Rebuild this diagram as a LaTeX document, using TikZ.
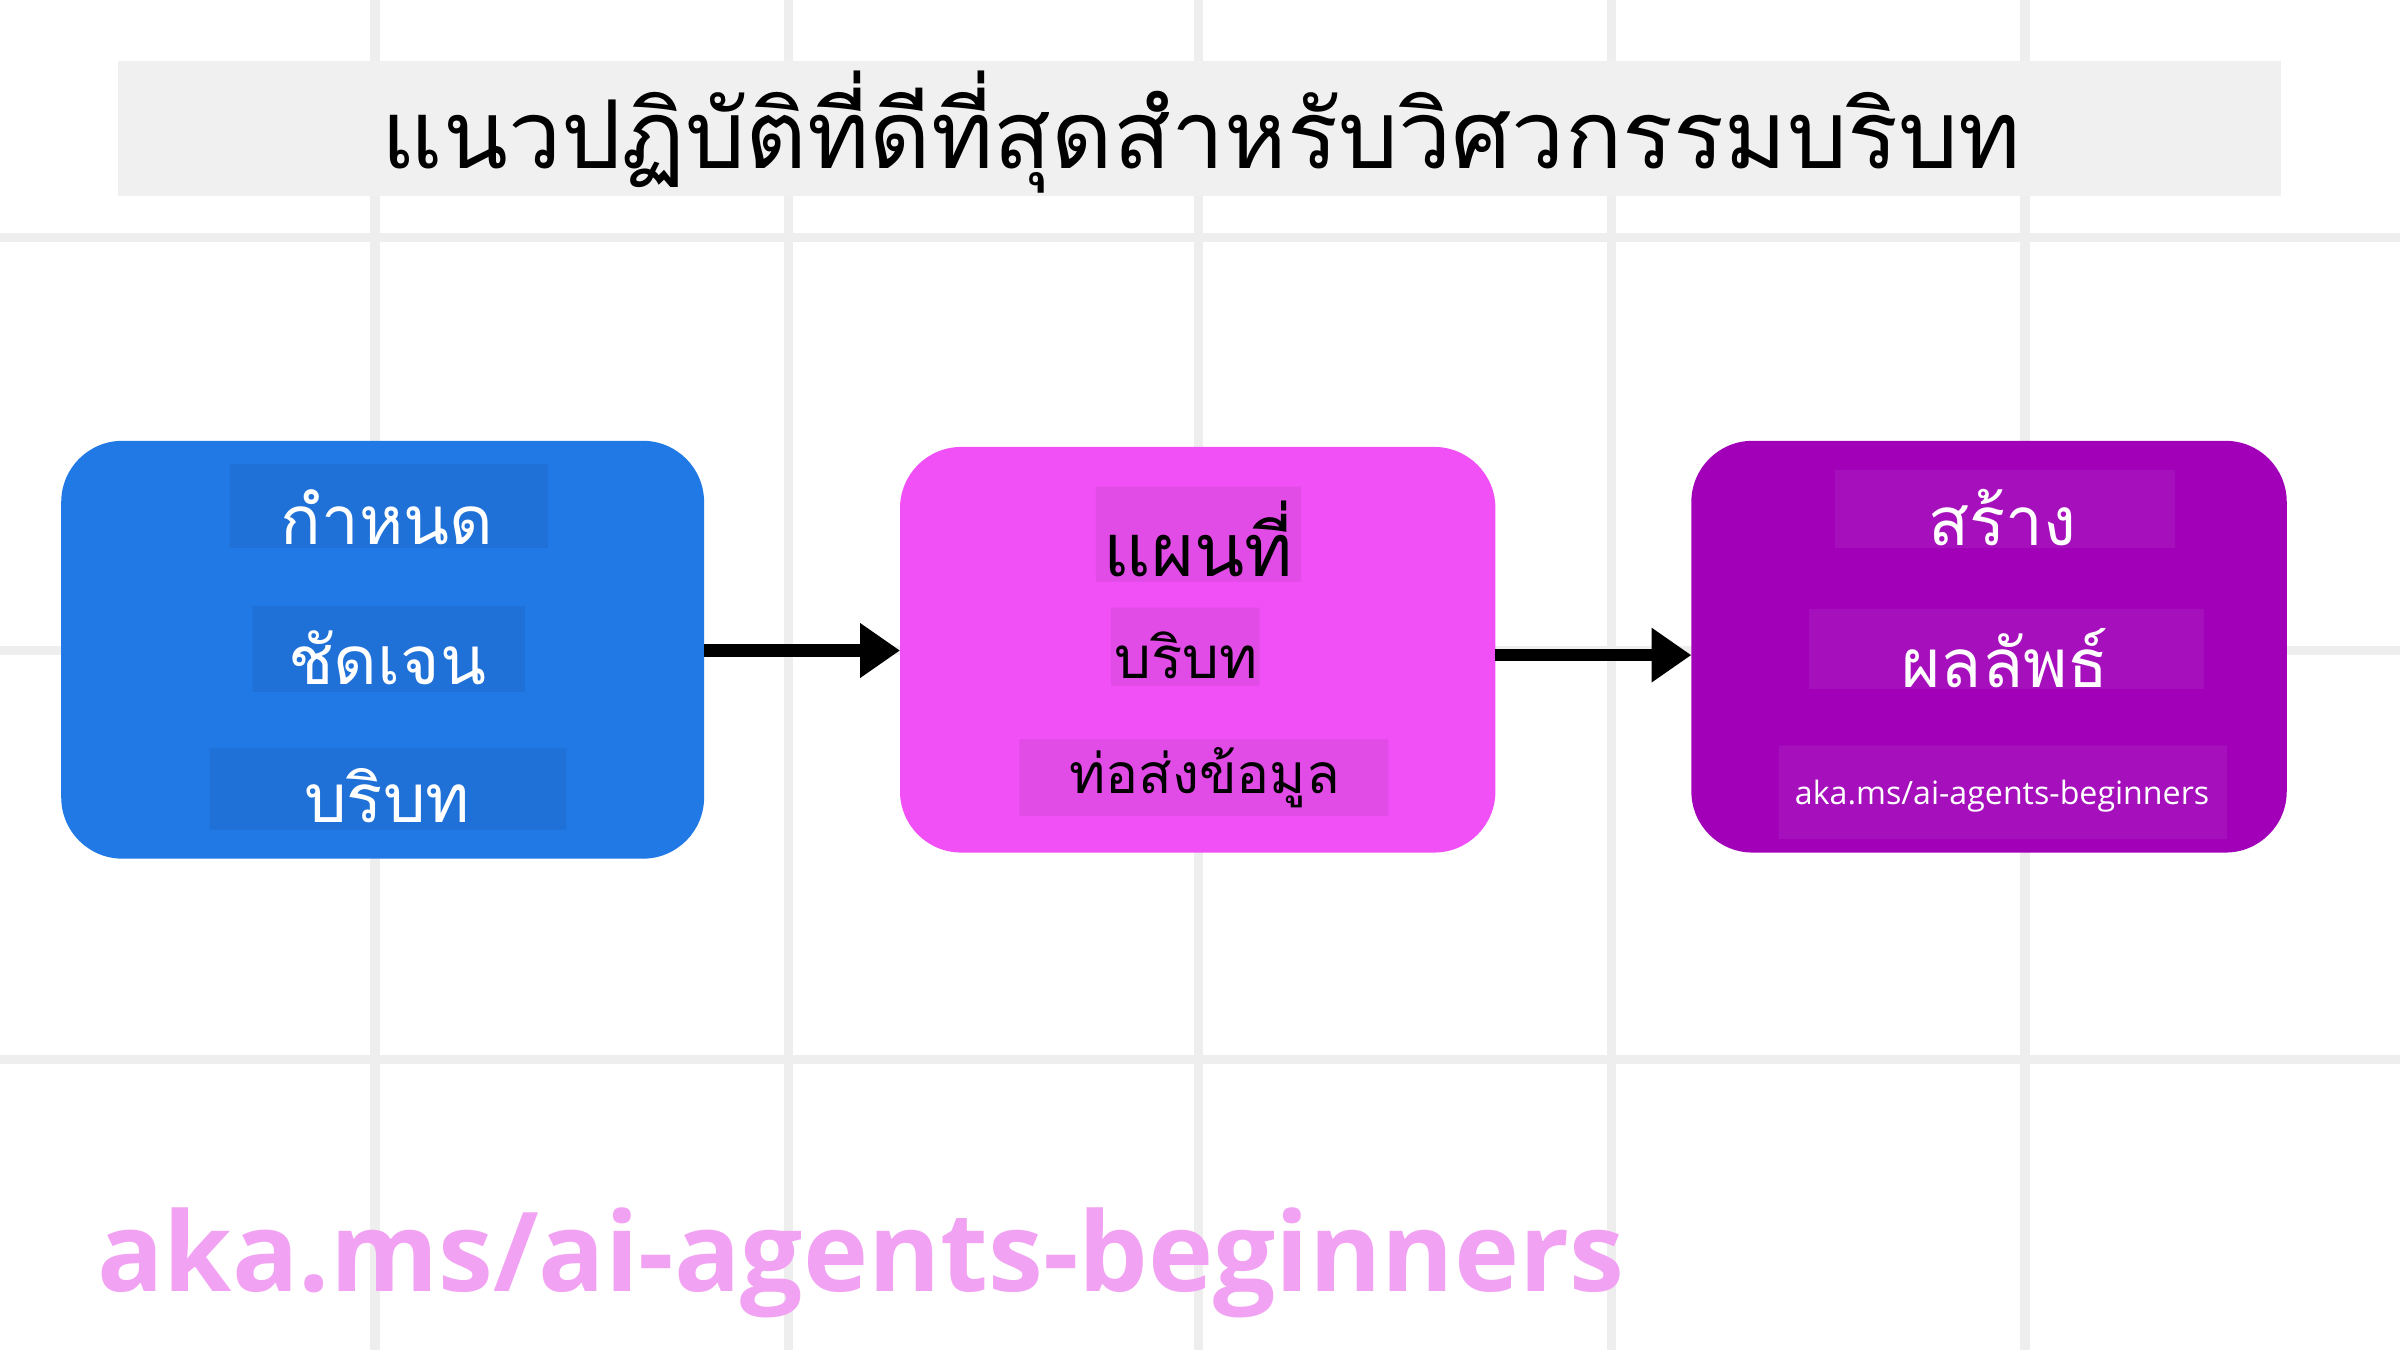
\documentclass[tikz,border=0pt]{standalone}
\usepackage{fontspec}
\setmainfont{Open Sans}
\newfontfamily\thaifont[Script=Thai]{Loma}
\usetikzlibrary{arrows.meta}
\definecolor{gridc}{HTML}{EEEEEE}
\definecolor{bblue}{HTML}{2179E6}
\definecolor{bpink}{HTML}{F050F5}
\definecolor{bpurp}{HTML}{A100B8}
\definecolor{urlc}{HTML}{F2A2F2}
\tikzset{
 box/.style={rounded corners=40pt,inner sep=0pt},
 hl/.style={inner sep=0pt},
 tw/.style={text=white,font=\thaifont\fontsize{44}{48}\selectfont},
 arr/.style={line width=8pt,-{Triangle[length=26pt,width=34pt]}}
}
\begin{document}
\begin{tikzpicture}[x=1pt,y=-1pt]
\useasboundingbox (0,0) rectangle (1568,882);
\fill[white] (0,0) rectangle (1568,882);
\foreach \x in {245,515,783,1053,1323} \draw[gridc,line width=6pt] (\x,0)--(\x,882);
\foreach \y in {155,425,692} \draw[gridc,line width=6pt] (0,\y)--(1568,\y);
\fill[gray!12] (77,40) rectangle (1490,128);
\node[font=\thaifont\fontsize{62}{66}\selectfont] (title) at (785,86) {แนวปฏิบัติที่ดีที่สุดสำหรับวิศวกรรมบริบท};
% box 1
\fill[bblue,rounded corners=40pt] (40,288) rectangle (460,561);
\coordinate (b1e) at (460,425);
\fill[black,opacity=0.06] (150,303) rectangle (358,358) (165,396) rectangle (343,452) (137,489) rectangle (370,542);
\node[tw] (t11) at (253,338) {กำหนด};
\node[tw] (t12) at (253,430) {ชัดเจน};
\node[tw] (t13) at (253,520) {บริบท};
% box 2
\fill[bpink,rounded corners=40pt] (588,292) rectangle (977,557);
\coordinate (b2w) at (588,425);
\coordinate (b2e) at (977,428);
\fill[black,opacity=0.06] (716,318) rectangle (850,380) (726,397) rectangle (823,448) (666,483) rectangle (907,533);
\node[font=\thaifont\fontsize{48}{52}\selectfont] (t21) at (783,352) {แผนที่};
\node[font=\thaifont\fontsize{38}{42}\selectfont] (t22) at (775,428) {บริบท};
\node[font=\thaifont\fontsize{36}{40}\selectfont] (t23) at (787,508) {ท่อส่งข้อมูล};
% box 3
\fill[bpurp,rounded corners=40pt] (1105,288) rectangle (1494,557);
\coordinate (b3w) at (1105,428);
\fill[white,opacity=0.06] (1199,307) rectangle (1421,358) (1182,398) rectangle (1440,450) (1162,487) rectangle (1455,548);
\node[tw] (t31) at (1308,338) {สร้าง};
\node[tw] (t32) at (1310,430) {ผลลัพธ์};
\node[text=white,font=\fontsize{21}{24}\selectfont] (t33) at (1308,520) {aka.ms/ai-agents-beginners};
\draw[arr] (b1e) -- (b2w);
\draw[arr] (b2e) -- (b3w);
\node[anchor=west,text=urlc,font=\bfseries\fontsize{72}{76}\selectfont] (url) at (60,825) {aka.ms/ai-agents-beginners};
\end{tikzpicture}
\end{document}
